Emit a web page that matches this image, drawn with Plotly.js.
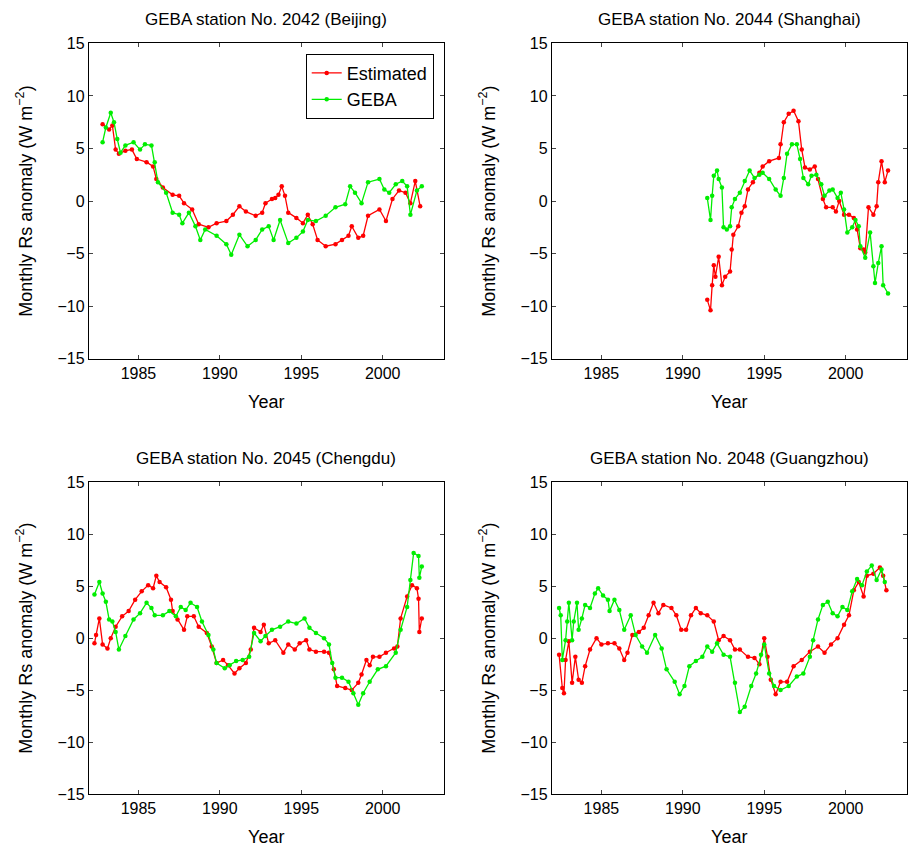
<!DOCTYPE html>
<html>
<head>
<meta charset="utf-8">
<script src="https://cdn.plot.ly/plotly-3.0.1.min.js"></script>
<style>
  html, body { margin: 0; padding: 0; background: #fff; }
  #chart { width: 915px; height: 852px; }
</style>
</head>
<body>
<div id="chart"></div>
<script>
// Beijing (2042)
var bjEstYear = [1982.8,1983.2,1983.4,1983.6,1983.8,1984.2,1984.6,1984.9,1985.5,1985.9,1986.1,1986.5,1987.1,1987.5,1987.8,1988.3,1988.7,1989.3,1989.8,1990.4,1990.8,1991.2,1991.6,1992.2,1992.6,1992.8,1993.2,1993.4,1993.6,1993.8,1994.0,1994.2,1994.7,1995.1,1995.4,1995.7,1996.0,1996.5,1997.1,1997.5,1997.9,1998.1,1998.5,1998.8,1999.1,1999.8,2000.2,2000.6,2001.0,2001.4,2001.7,2002.0,2002.3];
var bjEstVal  = [7.3,6.8,7.2,4.9,4.5,4.8,4.9,4.0,3.7,3.3,2.1,1.3,0.6,0.5,-0.2,-0.8,-2.2,-2.5,-2.1,-1.9,-1.3,-0.5,-1.0,-1.4,-1.1,-0.2,0.2,0.3,0.6,1.4,0.5,-1.1,-1.6,-2.1,-1.3,-2.2,-3.7,-4.3,-4.1,-3.7,-3.3,-2.4,-3.5,-3.3,-1.4,-0.8,-1.9,0.2,1.0,0.8,-0.2,1.9,-0.5];
var bjGebaYear = [1982.8,1983.0,1983.3,1983.5,1983.7,1983.9,1984.2,1984.7,1985.1,1985.4,1985.8,1986.0,1986.2,1986.7,1987.1,1987.5,1987.7,1988.1,1988.5,1988.8,1989.1,1989.8,1990.4,1990.7,1991.2,1991.7,1992.2,1992.6,1993.0,1993.3,1993.7,1994.2,1994.7,1995.1,1995.4,1995.9,1996.5,1997.1,1997.7,1998.0,1998.3,1998.7,1999.1,1999.8,2000.1,2000.4,2000.8,2001.2,2001.5,2001.7,2002.1,2002.4];
var bjGebaVal  = [5.6,7.0,8.4,7.5,5.9,4.6,5.3,5.6,4.9,5.4,5.3,3.7,1.8,0.8,-1.1,-1.3,-2.1,-1.1,-2.4,-3.7,-2.7,-3.3,-4.1,-5.1,-3.2,-4.3,-3.7,-2.7,-2.4,-3.7,-1.8,-4.0,-3.5,-2.9,-1.8,-1.9,-1.4,-0.6,-0.3,1.4,0.8,-0.2,1.8,2.1,1.1,0.8,1.6,1.9,1.4,-1.3,1.0,1.4];

// Shanghai (2044)
var shEstYear = [1991.5,1991.7,1991.8,1991.9,1992.0,1992.2,1992.4,1992.6,1992.9,1993.0,1993.1,1993.4,1993.6,1993.8,1994.0,1994.3,1994.7,1994.9,1995.3,1995.9,1996.0,1996.2,1996.5,1996.8,1997.1,1997.3,1997.5,1997.8,1998.1,1998.3,1998.6,1998.8,1999.2,1999.4,1999.6,1999.9,2000.2,2000.5,2000.7,2000.9,2001.1,2001.2,2001.4,2001.7,2001.9,2002.0,2002.2,2002.4,2002.6];
var shEstVal  = [-9.4,-10.4,-8.0,-6.1,-7.2,-5.3,-8.0,-7.2,-6.7,-4.6,-3.2,-2.4,-1.1,-0.5,1.1,1.8,2.7,3.3,3.8,4.1,5.4,7.5,8.3,8.6,7.6,4.9,3.2,3.0,3.3,2.1,0.2,-0.6,-0.6,-1.0,0.0,-1.3,-1.3,-1.6,-2.7,-4.5,-4.6,-4.9,-0.6,-1.3,-0.5,1.8,3.8,1.8,2.9];
var shGebaYear = [1991.5,1991.7,1991.8,1991.9,1992.1,1992.2,1992.4,1992.5,1992.7,1992.9,1993.0,1993.2,1993.5,1993.8,1994.1,1994.4,1994.7,1994.9,1995.3,1995.7,1996.0,1996.2,1996.4,1996.7,1997.0,1997.2,1997.4,1997.7,1997.9,1998.2,1998.5,1998.7,1999.0,1999.2,1999.5,1999.7,1999.9,2000.1,2000.4,2000.6,2000.8,2000.9,2001.2,2001.5,2001.7,2001.8,2002.0,2002.2,2002.3,2002.6];
var shGebaVal  = [0.3,-1.8,0.5,2.4,2.9,2.1,1.3,-2.5,-2.7,-2.4,-0.6,0.2,0.8,1.9,2.9,2.2,2.5,2.7,2.1,1.1,0.5,2.2,4.5,5.4,5.4,4.0,2.2,1.6,2.4,2.5,1.6,0.5,1.0,1.1,0.3,0.8,-0.8,-3.0,-2.5,-1.8,-2.4,-4.3,-5.4,-3.0,-6.2,-7.8,-5.9,-4.3,-8.0,-8.8];

// Chengdu (2045)
var cdEstYear = [1982.3,1982.4,1982.6,1982.8,1983.1,1983.3,1983.6,1984.0,1984.4,1984.8,1985.2,1985.6,1985.9,1986.1,1986.3,1986.7,1987.0,1987.1,1987.4,1987.8,1988.0,1988.4,1988.7,1989.2,1989.5,1989.8,1990.2,1990.5,1990.9,1991.2,1991.6,1991.9,1992.1,1992.5,1992.7,1993.0,1993.4,1993.9,1994.2,1994.6,1994.9,1995.3,1995.5,1995.9,1996.4,1996.7,1997.0,1997.2,1997.7,1998.1,1998.5,1998.7,1999.0,1999.2,1999.4,1999.8,2000.2,2000.7,2000.9,2001.1,2001.5,2001.8,2002.1,2002.2,2002.25,2002.4];
var cdEstVal  = [-0.5,0.3,1.9,-0.6,-1.0,0.0,1.1,2.1,2.6,3.7,4.5,5.1,4.8,6.0,5.4,4.9,3.7,2.6,1.8,0.8,2.1,2.1,1.1,0.5,-0.8,-2.4,-2.1,-2.6,-3.4,-2.9,-2.4,-1.1,1.0,0.6,1.3,-0.5,-0.2,-1.4,-0.6,-1.1,-0.5,-0.2,-1.1,-1.3,-1.3,-1.4,-3.0,-4.6,-4.8,-5.0,-4.3,-3.5,-2.1,-2.6,-1.8,-1.8,-1.4,-1.0,-0.8,1.9,4.0,5.1,4.8,3.8,0.6,1.9];
var cdGebaYear = [1982.3,1982.6,1982.8,1983.0,1983.2,1983.4,1983.6,1983.8,1984.2,1984.7,1985.1,1985.5,1985.8,1986.0,1986.5,1986.9,1987.3,1987.6,1987.9,1988.2,1988.6,1988.9,1989.3,1989.6,1989.8,1990.3,1990.6,1991.0,1991.4,1991.8,1992.1,1992.5,1992.8,1993.2,1993.7,1994.2,1994.7,1995.2,1995.5,1995.9,1996.4,1996.7,1996.9,1997.1,1997.5,1997.9,1998.2,1998.5,1998.8,1999.2,1999.7,2000.2,2000.8,2001.1,2001.5,2001.7,2001.9,2002.2,2002.25,2002.4];
var cdGebaVal  = [4.2,5.4,4.3,3.5,1.8,1.6,0.6,-1.1,0.2,1.8,2.4,3.4,2.9,2.2,2.2,2.6,2.1,3.0,2.7,3.4,3.0,1.6,0.3,-1.1,-2.4,-2.9,-2.6,-2.2,-2.1,-1.8,0.5,-0.3,0.2,0.8,1.1,1.6,1.4,1.9,1.0,0.5,0.0,-0.6,-2.4,-3.8,-3.8,-4.2,-5.3,-6.4,-5.3,-4.2,-3.0,-2.7,-1.4,0.8,3.0,5.6,8.2,7.9,5.8,6.9];

// Guangzhou (2048)
var gzEstYear = [1982.4,1982.6,1982.7,1982.8,1983.0,1983.2,1983.4,1983.6,1983.8,1984.0,1984.3,1984.7,1985.0,1985.4,1985.8,1986.1,1986.4,1986.6,1986.9,1987.3,1987.6,1987.9,1988.2,1988.5,1988.8,1989.3,1989.6,1989.9,1990.2,1990.5,1990.8,1991.1,1991.5,1991.9,1992.2,1992.5,1992.9,1993.2,1993.5,1994.0,1994.4,1994.7,1995.0,1995.2,1995.4,1995.7,1996.0,1996.4,1996.8,1997.3,1997.8,1998.3,1998.7,1999.1,1999.5,1999.9,2000.2,2000.5,2000.8,2001.1,2001.3,2001.7,2002.1,2002.3,2002.5];
var gzEstVal  = [-1.6,-4.8,-5.3,-2.1,-0.3,-4.3,-1.8,-4.0,-4.3,-2.7,-1.1,0.0,-0.6,-0.5,-0.5,-1.0,-2.1,-1.4,0.3,0.6,1.0,2.2,3.4,2.4,3.2,2.9,2.2,0.8,0.8,2.2,2.9,2.4,2.2,1.6,-0.2,0.2,-0.2,-1.1,-1.1,-1.8,-1.9,-2.5,0.0,-1.8,-4.0,-5.4,-4.2,-4.2,-2.7,-2.1,-1.3,-0.8,-1.4,-0.6,0.0,1.3,2.2,4.6,5.4,4.0,6.0,6.2,6.8,6.0,4.6];
var gzGebaYear = [1982.4,1982.5,1982.6,1982.8,1982.9,1983.0,1983.2,1983.3,1983.5,1983.6,1983.8,1984.0,1984.3,1984.6,1984.8,1985.1,1985.4,1985.5,1985.8,1986.1,1986.4,1986.8,1987.1,1987.5,1987.8,1988.3,1988.7,1989.0,1989.5,1989.8,1990.1,1990.4,1990.8,1991.2,1991.5,1991.8,1992.1,1992.5,1992.9,1993.2,1993.5,1993.8,1994.2,1994.5,1994.8,1995.0,1995.3,1995.6,1996.0,1996.5,1997.0,1997.4,1997.8,1998.0,1998.3,1998.6,1998.9,1999.2,1999.5,1999.8,2000.1,2000.4,2000.7,2001.0,2001.3,2001.6,2001.9,2002.2,2002.4];
var gzGebaVal  = [2.9,2.2,-2.1,-0.2,1.6,3.4,-0.2,1.6,3.4,0.8,1.9,3.2,2.9,4.3,4.8,4.1,3.7,2.6,3.7,2.7,0.8,2.2,0.3,-0.8,-1.4,0.3,-1.0,-3.0,-4.2,-5.4,-4.6,-2.7,-2.2,-1.8,-0.8,-1.3,-0.5,-1.6,-1.8,-4.3,-7.1,-6.6,-4.6,-3.4,-1.6,-0.6,-3.4,-4.6,-5.0,-4.6,-3.7,-3.4,-1.8,-0.2,1.8,3.2,3.5,2.4,2.1,3.0,2.7,4.5,5.7,5.1,6.4,7.0,5.6,6.6,5.4];

var titles = ['GEBA station No. 2042 (Beijing)', 'GEBA station No. 2044 (Shanghai)',
              'GEBA station No. 2045 (Chengdu)', 'GEBA station No. 2048 (Guangzhou)'];
var yearTicks = [1985, 1990, 1995, 2000];
var anomTicks = [-15, -10, -5, 0, 5, 10, 15];

var panels = [
  [bjEstYear, bjEstVal, bjGebaYear, bjGebaVal],
  [shEstYear, shEstVal, shGebaYear, shGebaVal],
  [cdEstYear, cdEstVal, cdGebaYear, cdGebaVal],
  [gzEstYear, gzEstVal, gzGebaYear, gzGebaVal]
];

var FONT = 'Liberation Sans, Arial, sans-serif';
var xDom = [[0.097, 0.485], [0.603, 0.991]];
var yDom = [[0.579, 0.949], [0.068, 0.434]];

var traces = [];
var layout = {
  width: 915, height: 852,
  margin: {l: 0, r: 0, t: 0, b: 0},
  paper_bgcolor: '#fff', plot_bgcolor: '#fff',
  font: {family: FONT, size: 16, color: '#000'},
  showlegend: true,
  legend: {x: 0.474, y: 0.937, xanchor: 'right', yanchor: 'top',
           bordercolor: '#000', borderwidth: 1, bgcolor: '#fff',
           font: {size: 18}, tracegroupgap: 0},
  annotations: []
};

panels.forEach(function (p, i) {
  var n = i + 1;
  var xa = n === 1 ? 'x' : 'x' + n, ya = n === 1 ? 'y' : 'y' + n;
  traces.push({x: p[0], y: p[1], xaxis: xa, yaxis: ya, type: 'scatter', mode: 'lines+markers',
    name: 'Estimated', showlegend: i === 0,
    line: {color: '#ff0000', width: 1.3}, marker: {color: '#ff0000', size: 4.5}});
  traces.push({x: p[2], y: p[3], xaxis: xa, yaxis: ya, type: 'scatter', mode: 'lines+markers',
    name: 'GEBA', showlegend: i === 0,
    line: {color: '#00ee00', width: 1.3}, marker: {color: '#00ee00', size: 4.5}});
  var xd = xDom[i % 2], yd = yDom[Math.floor(i / 2)];
  layout['xaxis' + (n === 1 ? '' : n)] = {
    domain: xd, anchor: ya, range: [1981.95, 2003.75],
    tickvals: yearTicks, ticks: 'inside', ticklen: 4, mirror: 'ticks',
    showline: true, linecolor: '#000', linewidth: 1, showgrid: false, zeroline: false,
    tickfont: {size: 16},
    title: {text: 'Year', font: {size: 18}, standoff: 14}
  };
  layout['yaxis' + (n === 1 ? '' : n)] = {
    domain: yd, anchor: xa, range: [-15, 15],
    tickvals: anomTicks, ticks: 'inside', ticklen: 4, mirror: 'ticks',
    showline: true, linecolor: '#000', linewidth: 1, showgrid: false, zeroline: false,
    tickfont: {size: 16},
    title: {text: 'Monthly Rs anomaly (W m<sup>\u22122</sup>)', font: {size: 18}, standoff: 20}
  };
  layout.annotations.push({text: titles[i], xref: 'paper', yref: 'paper',
    x: (xd[0] + xd[1]) / 2, xanchor: 'center', y: yd[1], yanchor: 'bottom', showarrow: false,
    yshift: 12, font: {size: 17}});
});

Plotly.newPlot('chart', traces, layout, {staticPlot: true});
</script>
</body>
</html>
